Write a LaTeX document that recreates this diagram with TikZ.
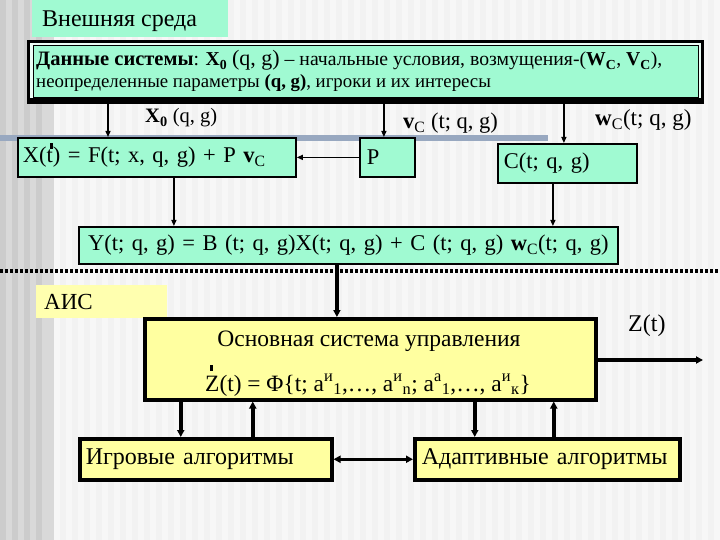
\documentclass[tikz,border=0pt]{standalone}
\usepackage{fontspec}
\setmainfont{Liberation Serif}
\usetikzlibrary{arrows.meta}
\definecolor{mint}{RGB}{160,250,210}
\definecolor{pyellow}{RGB}{255,255,160}
\definecolor{lyellow}{RGB}{255,255,175}
\definecolor{barblue}{RGB}{152,168,192}
\tikzset{
  upbox/.style={draw=black, line width=1.8pt, fill=mint, anchor=north west, inner sep=0pt, font=\fontsize{22.5}{26}\selectfont},
  lowbox/.style={draw=black, line width=3.5pt, fill=pyellow, anchor=north west, inner sep=0pt, font=\fontsize{24}{28}\selectfont},
  thinarrow/.style={line width=1.3pt, -{Triangle[length=6pt,width=5pt]}},
  thickarrow/.style={line width=3.5pt, -{Triangle[length=7pt,width=7pt]}},
  lbl/.style={anchor=base west, inner sep=0pt},
  dotmark/.style={fill=black, minimum width=3pt, minimum height=6pt, inner sep=0pt},
}
\begin{document}
\begin{tikzpicture}[x=1pt, y={(0pt,-1pt)}]
\useasboundingbox (0,0) rectangle (720,540);
% background stripes
\fill[white!95!black] (0,0) rectangle (720,540);
\fill[white!85!black] (0,0) rectangle (54,540);
\foreach \i in {0,12,...,42} {\fill[white!80!black] (\i,0) rectangle (\i+6,540);}
\foreach \i in {54,66,...,714} {\fill[white!97!black] (\i,0) rectangle (\i+6,540);}
% decorative bar
\fill[barblue] (0,135) rectangle (548,141);

% top label
\node[fill=mint, anchor=north west, minimum width=196pt, minimum height=37pt, inner sep=0pt] (env) at (32,0) {};
\node[lbl, font=\fontsize{24}{28}\selectfont] (envt) at (42,27) {Внешняя среда};

% data box with double frame
\node[fill=black, anchor=north west, minimum width=677pt, minimum height=64pt, inner sep=0pt] (frame) at (27,40) {};
\fill[white!80!mint] (30,43) rectangle (701,98);
\node[draw=black, line width=1pt, fill=mint, anchor=north west, minimum width=665pt, minimum height=52pt, inner sep=0pt] (data) at (33,45.5) {};
\node[lbl, font=\fontsize{19.7}{22}\selectfont] (d1) at (36,66) {{\fontsize{20.5}{22}\selectfont\textbf{Данные системы}}: \textbf{X\textsubscript{0}} {\fontsize{22}{24}\selectfont(q, g)} – начальные условия, возмущения-(\textbf{W\textsubscript{C}}, \textbf{V\textsubscript{C}}),};
\node[lbl, font=\fontsize{18.8}{22}\selectfont] (d2) at (36,88) {неопределенные параметры \textbf{(q, g)}, игроки и их интересы};

% labels under data box
\node[lbl, font=\fontsize{20.5}{24}\selectfont] (lx0) at (145,123) {\textbf{X\textsubscript{0}} (q, g)};
\node[lbl, font=\fontsize{22.5}{26}\selectfont] (lv) at (403,129) {\textbf{v}\textsubscript{C} (t; q, g)};
\node[lbl, font=\fontsize{23}{26}\selectfont] (lw) at (595,126) {\textbf{w}\textsubscript{C}(t; q, g)};

% upper boxes
\node[upbox, minimum width=278pt, minimum height=39pt, text width=268pt, align=left] (xbox) at (17,137) {X(t) = F(t; x, q, g) + P \textbf{v}\textsubscript{C}};
\node[dotmark] (xdot) at (51,146) {};
\node[upbox, minimum width=55pt, minimum height=39pt, text width=41pt, align=left] (pbox) at (359,137) {P};
\node[upbox, minimum width=139pt, minimum height=39pt, text width=127pt, align=left] (cbox) at (497,143) {C(t; q, g)};
\node[upbox, minimum width=539pt, minimum height=37pt, text width=535pt, align=center] (ybox) at (78,226) {Y(t; q, g) = B (t; q, g)X(t; q, g) + C (t; q, g) \textbf{w}\textsubscript{C}(t; q, g)};

% upper connectors
\draw[thinarrow] ([xshift=91pt]xbox.north west |- frame.south) -- ([xshift=91pt]xbox.north west);
\draw[thinarrow] ([xshift=-3.5pt]pbox.north |- frame.south) -- ([xshift=-3.5pt]pbox.north);
\draw[thinarrow] ([xshift=-3.5pt]cbox.north |- frame.south) -- ([xshift=-3.5pt]cbox.north);
\draw[thinarrow] (pbox.west) -- (xbox.east);
\draw[thinarrow] ([xshift=17pt]xbox.south) -- ([xshift=17pt]xbox.south |- ybox.north);
\draw[thinarrow] ([xshift=-14.5pt]cbox.south) -- ([xshift=-14.5pt]cbox.south |- ybox.north);

% dotted separator
\coordinate (sepl) at (0,271);
\coordinate (sepr) at (720,271);
\draw[line width=4pt, dash pattern=on 3pt off 2pt] (sepl) -- (sepr);

% lower part
\node[fill=lyellow, anchor=north west, minimum width=131pt, minimum height=33pt, inner sep=0pt] (ais) at (36,285) {};
\node[lbl, font=\fontsize{23}{27}\selectfont] (aist) at (44,309) {АИС};
\node[lowbox, minimum width=451pt, minimum height=81pt] (main) at (143,317) {};
\node[lbl, font=\fontsize{23.5}{27}\selectfont, anchor=base] (mt1) at (369,346) {Основная система управления};
\node[lbl, font=\fontsize{23.4}{27}\selectfont] (mt2) at (205,391) {Z(t) = Φ\{t; a\textsuperscript{и}\textsubscript{1},…, a\textsuperscript{и}\textsubscript{n}; a\textsuperscript{а}\textsubscript{1},…, a\textsuperscript{и}\textsubscript{к}\}};
\node[dotmark] (zdot) at (211,368) {};

\draw[thickarrow] ([xshift=-11.5pt]ybox.south) -- ([xshift=-11.5pt]ybox.south |- main.north);

\coordinate (zend) at (703,360);
\draw[thickarrow] (main.east |- zend) -- (zend);
\node[lbl, font=\fontsize{24}{28}\selectfont] (zt) at (628,331) {Z(t)};

\node[lowbox, minimum width=252pt, minimum height=41pt, text width=240pt, align=left] (igr) at (78,437) {Игровые алгоритмы};
\node[lowbox, minimum width=265pt, minimum height=41pt, text width=251pt, align=left] (adap) at (413,437) {Адаптивные алгоритмы};

\draw[thickarrow] ([xshift=-25pt]igr.north |- main.south) -- ([xshift=-25pt]igr.north);
\draw[thickarrow] ([xshift=47pt]igr.north) -- ([xshift=47pt]igr.north |- main.south);
\draw[thickarrow] ([xshift=-72.5pt]adap.north |- main.south) -- ([xshift=-72.5pt]adap.north);
\draw[thickarrow] ([xshift=6.5pt]adap.north) -- ([xshift=6.5pt]adap.north |- main.south);
\draw[line width=3.5pt, {Triangle[length=7pt,width=7pt]}-{Triangle[length=7pt,width=7pt]}] (igr.east) -- (adap.west);
\end{tikzpicture}
\end{document}
